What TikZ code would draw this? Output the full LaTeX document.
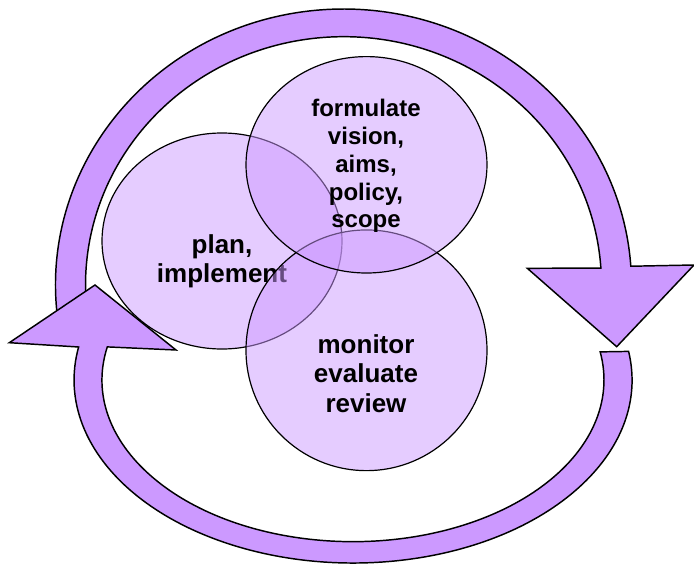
\documentclass[tikz,border=0pt]{standalone}
\usepackage{fontspec}
\setmainfont{Liberation Sans}
\usetikzlibrary{shapes.geometric}
\definecolor{lilac}{HTML}{CC99FF}
\tikzset{
    band/.style={draw=black, line width=1.1pt, fill=lilac, line join=miter},
    bubble/.style={ellipse, draw=black, line width=0.9pt, fill=lilac, fill opacity=0.5, draw opacity=1, inner sep=0pt},
    caption/.style={align=center, text=black, font=\bfseries\fontsize{19.5}{22}\selectfont},
    smallcaption/.style={caption, font=\bfseries\fontsize{18}{20.9}\selectfont}
}

\begin{document}
\begin{tikzpicture}[x=0.75pt, y=-0.75pt]
    \useasboundingbox (0,0) rectangle (694,564);

    % upper arc, ending in the head on the right
    \draw [band] (343.5,285) ++(172.7:288 and 276)
        arc[start angle=172.7, end angle=356.1, x radius=288, y radius=276]
        -- (694,265) -- (616.7,346.7) -- (527.3,268.3) -- (600.9,268.1)
        arc[start angle=356.1, end angle=172.7, x radius=258, y radius=248.3] -- cycle;

    % lower arc, ending in the head on the left
    \draw [band] (628.6,351.4)
        arc[start angle=-9, end angle=190.4, x radius=279, y radius=183]
        -- (9.3,342.7) -- (95,285) -- (176,350) -- (107.3,346.9)
        arc[start angle=191.8, end angle=-10, x radius=251, y radius=161.7] -- cycle;

    \node (plan) [bubble, minimum width=180pt, minimum height=162pt] at (222,241) {};
    \node (plantxt) [caption] at (222,261) {plan,\\implement};

    \node (monitor) [bubble, minimum width=180.75pt, minimum height=180.5pt] at (366.5,350.3) {};
    \node (monitortxt) [caption] at (366,373.5) {monitor\\evaluate\\review};

    \node (vision) [bubble, minimum width=180.75pt, minimum height=162.3pt] at (366.5,164.8) {};
    \node (visiontxt) [smallcaption] at (366,166) {formulate\\vision,\\aims,\\policy,\\scope};
\end{tikzpicture}
\end{document}
